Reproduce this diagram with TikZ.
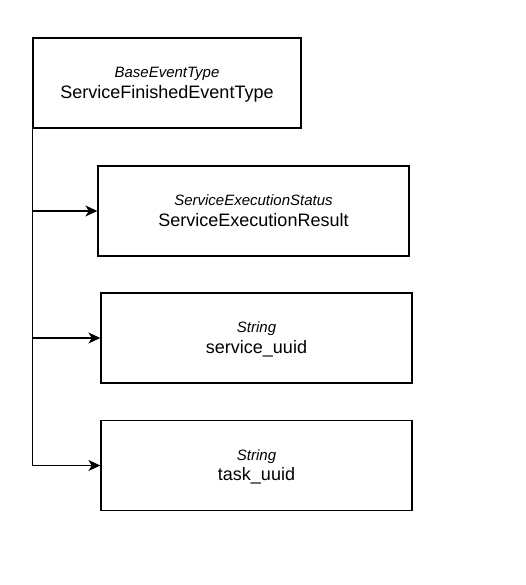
\documentclass[tikz,border=0pt]{standalone}
\usepackage{fontspec}
\setmainfont{Liberation Sans}
\usetikzlibrary{arrows.meta}
\begin{document}
\begin{tikzpicture}[x=1pt,y=-1pt,
  box/.style={draw=black,line width=1.3pt,fill=white,minimum height=90pt,inner sep=0pt},
  typelbl/.style={anchor=base,inner sep=0pt,font=\fontsize{15}{17}\selectfont\itshape},
  namelbl/.style={anchor=base,inner sep=0pt,font=\fontsize{18}{20}\selectfont},
  conn/.style={draw=black,line width=1.3pt,-{Stealth[length=12pt,width=11pt,inset=3.5pt]}}]
\useasboundingbox (0,0) rectangle (526,585);
\node[box,minimum width=268pt] (a) at (167,83) {};
\node[typelbl] (at) at (167,78) {BaseEventType};
\node[namelbl] (an) at (167,98.5) {ServiceFinishedEventType};
\node[box,minimum width=311pt] (b) at (253.5,211) {};
\node[typelbl] (bt) at (253.5,205.5) {ServiceExecutionStatus};
\node[namelbl] (bn) at (253.5,226) {ServiceExecutionResult};
\node[box,minimum width=311pt] (c) at (256.5,338) {};
\node[typelbl] (ct) at (256.5,332.5) {String};
\node[namelbl] (cn) at (256.5,353) {service\_uuid};
\node[box,minimum width=311pt] (d) at (256.5,465.5) {};
\node[typelbl] (dt) at (256.5,460) {String};
\node[namelbl] (dn) at (256.5,480.5) {task\_uuid};
\draw[conn] (a.south west) |- (b.west);
\draw[conn] (a.south west) |- (c.west);
\draw[conn] (a.south west) |- (d.west);
\end{tikzpicture}
\end{document}
